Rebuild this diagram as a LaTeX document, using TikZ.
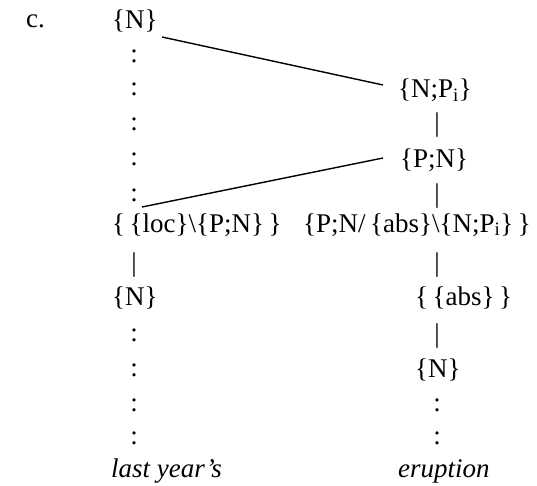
\documentclass[tikz,border=0pt]{standalone}
\usepackage{fontspec}
\setmainfont{Liberation Serif}
\begin{document}
\begin{tikzpicture}[x=1pt,y=-1pt,
  lbl/.style={inner sep=0pt,anchor=base west,font=\fontsize{27}{32}\selectfont},
  glyph/.style={inner sep=0pt,anchor=base,font=\fontsize{27}{32}\selectfont},
  link/.style={line width=1.4pt}]
\useasboundingbox (0,0) rectangle (537,486);
% labels
\node[lbl] (c) at (26,28) {c.};
% left column
\node[lbl] (l1) at (112,29) {\{N\}};
\foreach \y [count=\i] in {63,96,131,166,201}
  \node[glyph] (lc\i) at (134,\y) {:};
\node[lbl] (l2) at (112,232) {\{\,\{loc\}\textbackslash\{P;N\}\,\}};
\node[glyph] (lb1) at (134,271) {|};
\node[lbl] (l3) at (112,305) {\{N\}};
\foreach \y [count=\i] in {341,376,411,444}
  \node[glyph] (ld\i) at (134,\y) {:};
\node[lbl] (w1) at (111,477) {\textit{last year’s}};
% right column
\node[lbl] (r1) at (398,98) {\{N;P\textsubscript{i}\}};
\node[glyph] (rb1) at (437,132) {|};
\node[lbl] (r2) at (400,168) {\{P;N\}};
\node[glyph] (rb2) at (437,202) {|};
\node[lbl] (r3) at (303,232) {\{P;N/\,\{abs\}\textbackslash\{N;P\textsubscript{i}\}\,\}};
\node[glyph] (rb3) at (437,271) {|};
\node[lbl] (r4) at (415,305) {\{\,\{abs\}\,\}};
\node[glyph] (rb4) at (437,342) {|};
\node[lbl] (r5) at (415,377) {\{N\}};
\foreach \y [count=\i] in {411,444}
  \node[glyph] (rd\i) at (437,\y) {:};
\node[lbl] (w2) at (398,477) {\textit{eruption}};
% connectors
\coordinate (a1) at (162,37);
\coordinate (a2) at (383,85);
\coordinate (b1) at (142,207);
\coordinate (b2) at (383,158);
\draw[link] (a1) -- (a2);
\draw[link] (b1) -- (b2);
\end{tikzpicture}
\end{document}
